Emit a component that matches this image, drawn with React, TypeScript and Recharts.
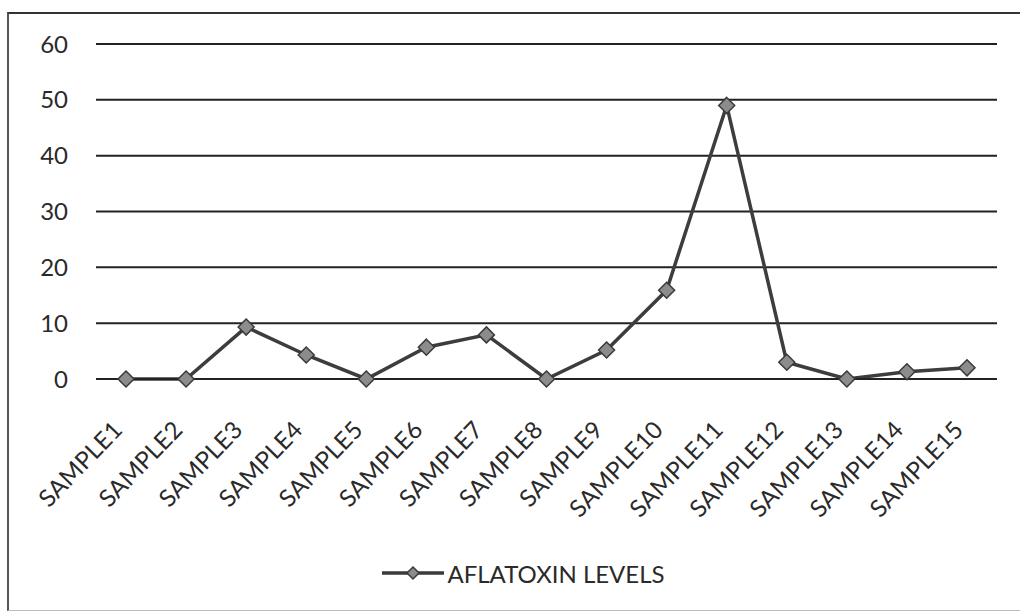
import React from 'react';
import { LineChart, Line, CartesianGrid, XAxis, YAxis, Legend } from 'recharts';

const samples = [
    'SAMPLE1', 'SAMPLE2', 'SAMPLE3', 'SAMPLE4', 'SAMPLE5', 'SAMPLE6', 'SAMPLE7', 'SAMPLE8',
    'SAMPLE9', 'SAMPLE10', 'SAMPLE11', 'SAMPLE12', 'SAMPLE13', 'SAMPLE14', 'SAMPLE15',
];
const aflatoxinLevels = [0, 0, 9.3, 4.3, 0, 5.7, 7.9, 0, 5.2, 15.9, 49, 3.0, 0, 1.3, 2.0];
const yTicks = [0, 10, 20, 30, 40, 50, 60];

const data = samples.map((name, i) => ({ name, level: aflatoxinLevels[i] }));

const FONT = 'Lato, "Open Sans", sans-serif';
const TEXT = '#2a2a2a';

const Diamond = (props: any) => {
    const { cx, cy } = props;
    if (cx == null || cy == null) return null;
    const r = 8;
    return (
        <path
            d={`M${cx},${cy - r} L${cx + r},${cy} L${cx},${cy + r} L${cx - r},${cy} Z`}
            fill="#8c8c8c"
            stroke="#3a3a3a"
            strokeWidth={1.5}
        />
    );
};

const SampleTick = (props: any) => {
    const { x, y, payload } = props;
    return (
        <text
            transform={`translate(${x - 2},${y + 52}) rotate(-46)`}
            textAnchor="end"
            fontFamily={FONT}
            fontSize={24}
            letterSpacing={0.3}
            fill={TEXT}
        >
            {payload.value}
        </text>
    );
};

const LegendContent = () => (
    <div style={{ display: 'flex', justifyContent: 'center', alignItems: 'center', height: 30 }}>
        <svg width={62} height={20} style={{ marginLeft: 50 }}>
            <line x1={0} y1={10} x2={62} y2={10} stroke="#3a3a3a" strokeWidth={3.5} />
            <path d="M31,4 L37,10 L31,16 L25,10 Z" fill="#8c8c8c" stroke="#3a3a3a" strokeWidth={1.5} />
        </svg>
        <span style={{ fontFamily: FONT, fontSize: 24, color: TEXT, marginLeft: 3 }}>AFLATOXIN LEVELS</span>
    </div>
);

export default function App() {
    return (
        <div style={{ position: 'absolute', left: 0, top: 0, width: 1020, height: 614, background: '#fff' }}>
            <div
                style={{
                    position: 'absolute',
                    left: 7,
                    top: 12,
                    width: 1013,
                    height: 596,
                    borderTop: '2px solid #333',
                    borderLeft: '2px solid #555',
                    borderBottom: '1px solid #bbb',
                }}
            />
            <LineChart
                width={1020}
                height={614}
                data={data}
                margin={{ top: 44, right: 23, left: 0, bottom: 26 }}
            >
                <CartesianGrid horizontal vertical={false} stroke="#222" strokeWidth={2} />
                <XAxis
                    dataKey="name"
                    interval={0}
                    padding={{ left: 30, right: 30 }}
                    height={179}
                    tickLine={false}
                    tickSize={0}
                    tickMargin={0}
                    axisLine={{ stroke: '#222', strokeWidth: 2 }}
                    tick={<SampleTick />}
                />
                <YAxis
                    width={96}
                    domain={[0, 60]}
                    ticks={yTicks}
                    axisLine={false}
                    tickLine={false}
                    tickSize={0}
                    tickMargin={28}
                    tick={{ fontFamily: FONT, fontSize: 24, fill: TEXT }}
                />
                <Legend verticalAlign="bottom" height={30} content={<LegendContent />} />
                <Line
                    type="linear"
                    dataKey="level"
                    name="AFLATOXIN LEVELS"
                    stroke="#3d3d3d"
                    strokeWidth={3.5}
                    dot={<Diamond />}
                    activeDot={false}
                    isAnimationActive={false}
                />
            </LineChart>
        </div>
    );
}
